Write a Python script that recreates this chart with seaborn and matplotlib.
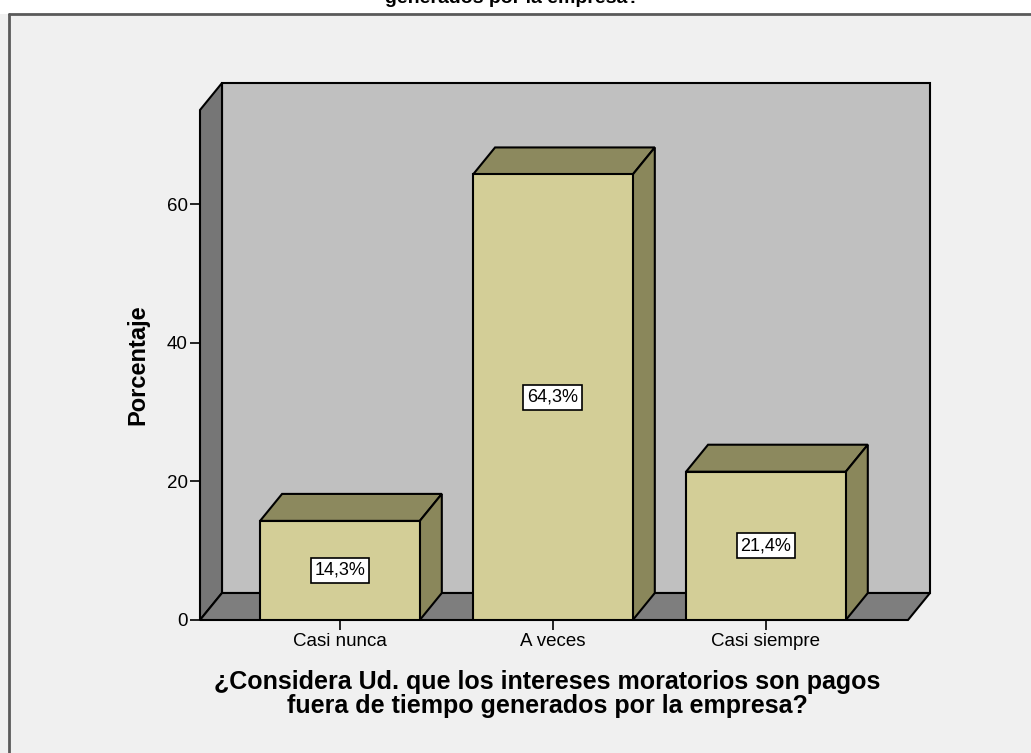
import numpy as np
import pandas as pd
import matplotlib
matplotlib.use("Agg")
import matplotlib.pyplot as plt
import seaborn as sns
from matplotlib.patches import Polygon, Rectangle
from matplotlib.lines import Line2D

categories = ["Casi nunca", "A veces", "Casi siempre"]
percentages = [14.3, 64.3, 21.4]
value_labels = ["14,3%", "64,3%", "21,4%"]
yticks = [0, 20, 40, 60]
x_title = "¿Considera Ud. que los intereses moratorios son pagos\nfuera de tiempo generados por la empresa?"
top_title = "generados por la empresa?"
y_title = "Porcentaje"

sns.set_theme(style="white")
plt.rcParams['font.family'] = ['Liberation Sans', 'DejaVu Sans']

W, H = 1031, 753
fig = plt.figure(figsize=(W / 100, H / 100), dpi=100, facecolor="#f0f0f0")

# white strip at top + frame lines
fig.patches.append(Rectangle((0, 1 - 14 / H), 1, 14 / H, transform=fig.transFigure,
                             facecolor="white", edgecolor="none", zorder=0))
fig.lines.append(Line2D([9 / W, 1], [1 - 14 / H, 1 - 14 / H], transform=fig.transFigure,
                        color="#5a5a5a", lw=2))
fig.lines.append(Line2D([9 / W, 9 / W], [0, 1 - 14 / H], transform=fig.transFigure,
                        color="#5a5a5a", lw=2))
fig.text(512 / W, 1 - 3 / H, top_title, ha="center", va="baseline",
         fontsize=14, fontweight="bold", color="black")

ax_l, ax_b, ax_w, ax_h = 200, 133, 708, 510
ax = fig.add_axes([ax_l / W, ax_b / H, ax_w / W, ax_h / H])
ax.set_facecolor("none")

df = pd.DataFrame({"cat": categories, "pct": percentages})
sns.barplot(data=df, x="cat", y="pct", color="#d3ce97", saturation=1, width=0.75,
            edgecolor="black", linewidth=1.5, ax=ax, zorder=3)
bars = list(ax.patches)

x0, x1 = -0.657, 2.667
y0, y1 = 0, 73.6
ax.set_xlim(x0, x1)
ax.set_ylim(y0, y1)

dx = 22 * (x1 - x0) / ax_w
dy = 27 * (y1 - y0) / ax_h

wall_kw = dict(edgecolor="black", linewidth=1.5, clip_on=False, joinstyle="miter")
ax.add_patch(Polygon([(x0 + dx, dy), (x1 + dx, dy), (x1 + dx, y1 + dy), (x0 + dx, y1 + dy)],
                     facecolor="#c0c0c0", zorder=0.5, **wall_kw))
ax.add_patch(Polygon([(x0, 0), (x0, y1), (x0 + dx, y1 + dy), (x0 + dx, dy)],
                     facecolor="#767676", zorder=1, **wall_kw))
ax.add_patch(Polygon([(x0, 0), (x1, 0), (x1 + dx, dy), (x0 + dx, dy)],
                     facecolor="#7e7e7e", zorder=1, **wall_kw))

for p, lab in zip(bars, value_labels):
    bx, bw, bh = p.get_x(), p.get_width(), p.get_height()
    ax.add_patch(Polygon([(bx, bh), (bx + bw, bh), (bx + bw + dx, bh + dy), (bx + dx, bh + dy)],
                         facecolor="#8c895e", zorder=2.5, **wall_kw))
    ax.add_patch(Polygon([(bx + bw, 0), (bx + bw + dx, dy), (bx + bw + dx, bh + dy), (bx + bw, bh)],
                         facecolor="#8a875b", zorder=2.5, **wall_kw))
    ax.text(bx + bw / 2, bh / 2, lab, ha="center", va="center", fontsize=13, color="black",
            zorder=5, bbox=dict(boxstyle="square,pad=0.22", facecolor="white",
                                edgecolor="black", linewidth=1.2))

for s in ax.spines.values():
    s.set_visible(False)

ax.set_yticks(yticks)
ax.set_yticklabels([str(v) for v in yticks])
ax.tick_params(axis="y", direction="out", length=7, width=1.2, color="black",
               labelsize=13.5, labelcolor="black", pad=2, left=True)
ax.tick_params(axis="x", direction="out", length=7, width=1.2, color="black",
               labelsize=13.5, labelcolor="black", pad=2, bottom=True)
ax.set_xlabel("")
ax.set_ylabel(y_title, fontsize=17, fontweight="bold", color="black")
ax.yaxis.set_label_coords(-51 / ax_w, 0.5)

fig.text(547 / W, 1 - 694 / H, x_title, ha="center", va="center", fontsize=18,
         fontweight="bold", linespacing=1.05, multialignment="center", color="black")

fig.savefig("out.png", dpi=100, facecolor=fig.get_facecolor())
